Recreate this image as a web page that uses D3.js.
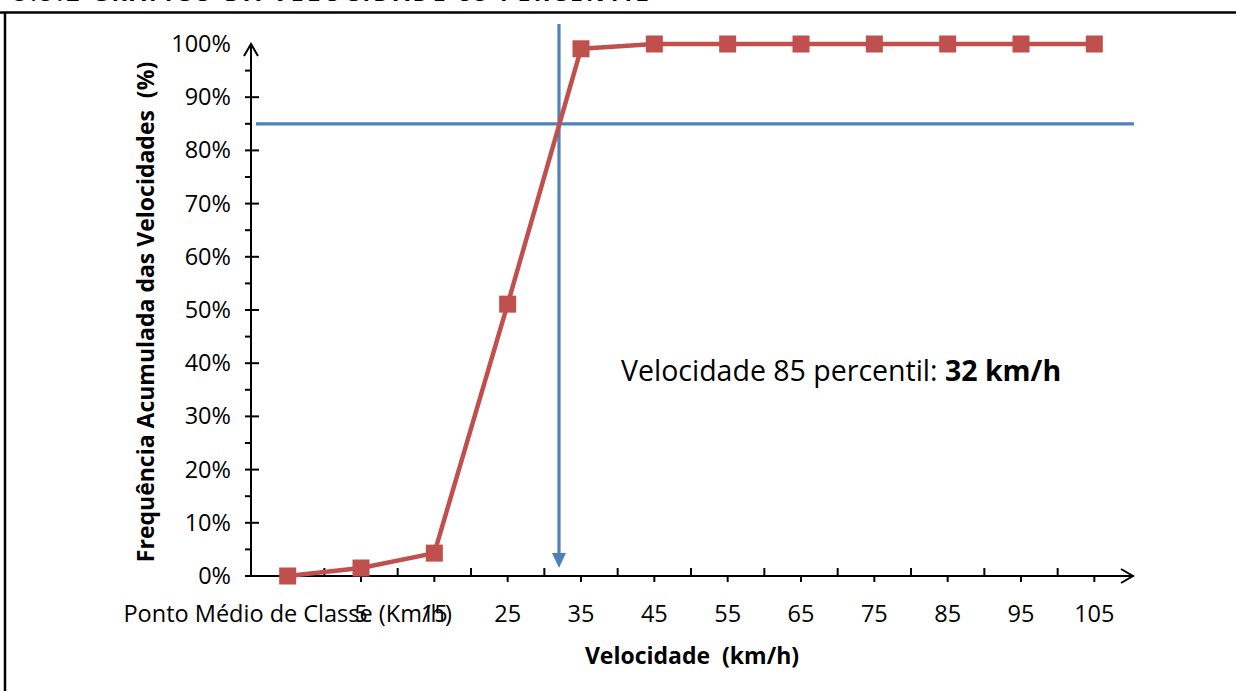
<!DOCTYPE html>
<html><head><meta charset="utf-8">
<script src="https://cdn.jsdelivr.net/npm/d3@7"></script>
<style>body{margin:0;background:#fff}svg{display:block}text{white-space:pre}</style>
</head><body>
<svg id="c" width="1236" height="691"></svg>
<script>
const categories = ["Ponto Médio de Classe (Km/h)","5","15","25","35","45","55","65","75","85","95","105"];
const categorySpeeds = [0,5,15,25,35,45,55,65,75,85,95,105];
const cumulativePct = [0,1.5,4.3,51.1,99.1,100,100,100,100,100,100,100];
const yTicks = [0,10,20,30,40,50,60,70,80,90,100];
const percentile = 85;
const percentileSpeed = 32;
const titleText = "5.5.2 GRÁFICO DA VELOCIDADE 85 PERCENTIL";
const yTitle = "Frequência Acumulada das Velocidades  (%)";
const xTitle = "Velocidade  (km/h)";

const svg = d3.select("#c");
const FONT = "'Open Sans', sans-serif";
const red = "#C0504D", blue = "#4F81BD";

// frame
svg.append("text").attr("x",14).attr("y",1).attr("font-family",FONT).attr("font-weight","bold")
  .attr("font-size",23).attr("letter-spacing",3.2).attr("fill","#000").text(titleText);
svg.append("rect").attr("x",0).attr("y",11.5).attr("width",1236).attr("height",691).attr("fill","#fff");
svg.append("line").attr("x1",0).attr("x2",1236).attr("y1",12.5).attr("y2",12.5).attr("stroke","#000").attr("stroke-width",2.5);
svg.append("line").attr("x1",5).attr("x2",5).attr("y1",12).attr("y2",691).attr("stroke","#000").attr("stroke-width",2.5);

const x = d3.scaleBand().domain(categories).range([251,1131]).paddingInner(0).paddingOuter(0);
const bw = x.bandwidth();
const cx = c => x(c) + bw/2;
const y = d3.scaleLinear().domain([0,100]).range([576,44]);
const xs = d3.scaleLinear().domain([categorySpeeds[3],categorySpeeds[4]]).range([cx(categories[3]),cx(categories[4])]);

const ax = svg.append("g").attr("stroke","#000").attr("stroke-width",2);
// y ticks
d3.range(0,100,5).forEach(v=>{
  const major = v%10===0;
  ax.append("line").attr("x1",245).attr("x2",major?259:251).attr("y1",y(v)).attr("y2",y(v));
});
// x ticks
categories.forEach((c,i)=>{
  if(i>0) ax.append("line").attr("x1",x(c)).attr("x2",x(c)).attr("y1",y(0)-8).attr("y2",y(0));
  ax.append("line").attr("x1",cx(c)).attr("x2",cx(c)).attr("y1",y(0)).attr("y2",y(0)+6);
});
ax.append("line").attr("x1",251).attr("x2",251).attr("y1",y(0)).attr("y2",y(100));
ax.append("line").attr("x1",251).attr("x2",1133).attr("y1",y(0)).attr("y2",y(0));
ax.append("path").attr("fill","none").attr("d",`M244,${y(100)+12}L251,${y(100)}L258,${y(100)+12}`);
ax.append("path").attr("fill","none").attr("d",`M1121,${y(0)-7}L1133,${y(0)}L1121,${y(0)+7}`);

// y labels
svg.append("g").selectAll("text").data(yTicks).join("text")
  .attr("x",231).attr("y",d=>y(d)+8).attr("text-anchor","end")
  .attr("font-family",FONT).attr("font-size",23.5).attr("fill","#000").text(d=>d+"%");
// x labels
svg.append("g").selectAll("text").data(categories).join("text")
  .attr("x",d=>cx(d)).attr("y",622).attr("text-anchor","middle")
  .attr("font-family",FONT).attr("font-size",23.5).attr("fill","#000").text(d=>d);

// titles
svg.append("text").attr("transform","translate(154,312) rotate(-90)").attr("text-anchor","middle")
  .attr("font-family",FONT).attr("font-weight","bold").attr("font-size",23).text(yTitle);
svg.append("text").attr("x",692).attr("y",664).attr("text-anchor","middle")
  .attr("font-family",FONT).attr("font-weight","bold").attr("font-size",23).text(xTitle);

// percentile lines
svg.append("line").attr("x1",256).attr("x2",1134).attr("y1",y(percentile)).attr("y2",y(percentile))
  .attr("stroke",blue).attr("stroke-width",3.2);
const vx = xs(percentileSpeed);
svg.append("line").attr("x1",vx).attr("x2",vx).attr("y1",24).attr("y2",556).attr("stroke",blue).attr("stroke-width",3.2);
svg.append("path").attr("fill",blue).attr("d",`M${vx-7},553L${vx+7},553L${vx},568Z`);

// series
const line = d3.line().x((d,i)=>cx(categories[i])).y(d=>y(d));
svg.append("path").datum(cumulativePct).attr("fill","none").attr("stroke",red).attr("stroke-width",4.5)
  .attr("stroke-linejoin","round").attr("d",line);
svg.append("g").selectAll("rect").data(cumulativePct).join("rect")
  .attr("x",(d,i)=>cx(categories[i])-8.5).attr("y",d=>y(d)-8.5).attr("width",17).attr("height",17)
  .attr("fill",red);

// annotation
const ann = svg.append("text").attr("x",621).attr("y",381).attr("font-family",FONT).attr("font-size",28.5).attr("fill","#000");
ann.append("tspan").text("Velocidade 85 percentil: ");
ann.append("tspan").attr("font-weight","bold").text(percentileSpeed+" km/h");
</script>
</body></html>
